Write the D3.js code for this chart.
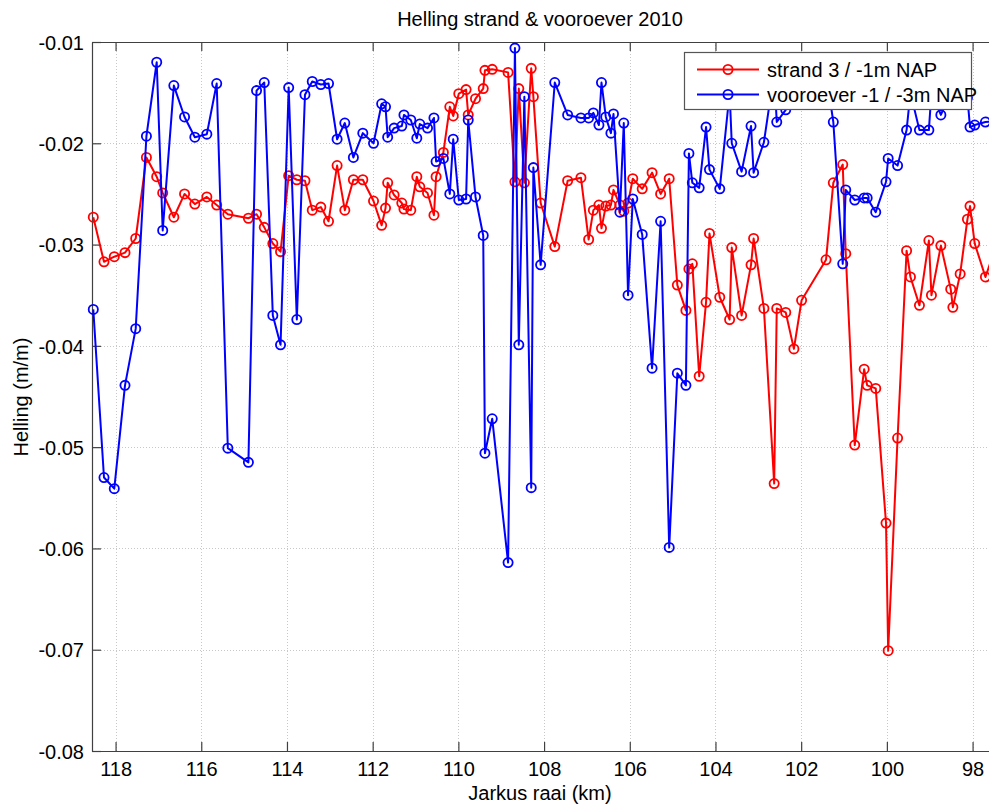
<!DOCTYPE html>
<html>
<head>
<meta charset="utf-8">
<script src="https://cdn.jsdelivr.net/npm/d3@7"></script>
<style>
  html, body { margin: 0; padding: 0; background: #fff; }
  svg { display: block; }
  text { font-family: "Liberation Sans", Arial, Helvetica, sans-serif; fill: #000; }
</style>
</head>
<body>
<svg id="chart" width="989" height="804"></svg>
<script>
// ---- data ----
const raai = [118.52,118.27,118.03,117.78,117.53,117.28,117.04,116.90,116.64,116.39,116.15,115.87,115.64,115.38,114.90,114.71,114.53,114.33,114.15,113.96,113.77,113.58,113.41,113.21,113.03,112.83,112.65,112.45,112.23,111.98,111.79,111.70,111.65,111.50,111.32,111.27,111.11,110.97,110.90,110.72,110.57,110.52,110.35,110.20,110.12,109.99,109.82,109.77,109.60,109.42,109.38,109.21,108.84,108.68,108.59,108.46,108.30,108.25,108.08,107.75,107.45,107.14,106.96,106.85,106.72,106.66,106.56,106.44,106.38,106.23,106.14,106.04,105.93,105.71,105.48,105.28,105.08,104.89,104.69,104.62,104.54,104.38,104.22,104.14,103.90,103.67,103.62,103.39,103.17,103.11,102.87,102.63,102.57,102.36,102.17,101.99,101.42,101.25,101.03,100.96,100.75,100.53,100.46,100.26,100.02,99.97,99.75,99.54,99.45,99.24,99.02,98.96,98.74,98.51,98.46,98.29,98.12,98.06,97.95,97.70,97.48];

const strand = [-0.0273,-0.0317,-0.0312,-0.0308,-0.0294,-0.0214,-0.0233,-0.0249,-0.0273,-0.0250,-0.0260,-0.0253,-0.0261,-0.0270,-0.0274,-0.0270,-0.0283,-0.0299,-0.0307,-0.0232,-0.0236,-0.0237,-0.0266,-0.0263,-0.0277,-0.0222,-0.0266,-0.0236,-0.0236,-0.0257,-0.0281,-0.0264,-0.0239,-0.0251,-0.0259,-0.0265,-0.0266,-0.0233,-0.0243,-0.0249,-0.0271,-0.0233,-0.0209,-0.0164,-0.0173,-0.0151,-0.0147,-0.0172,-0.0156,-0.0146,-0.0128,-0.0127,-0.0130,-0.0238,-0.0146,-0.0239,-0.0126,-0.0154,-0.0259,-0.0302,-0.0237,-0.0234,-0.0295,-0.0266,-0.0261,-0.0284,-0.0262,-0.0261,-0.0246,-0.0261,-0.0267,-0.0259,-0.0235,-0.0245,-0.0229,-0.0250,-0.0235,-0.0340,-0.0365,-0.0324,-0.0319,-0.0430,-0.0357,-0.0289,-0.0352,-0.0374,-0.0303,-0.0370,-0.0320,-0.0294,-0.0363,-0.0536,-0.0363,-0.0367,-0.0403,-0.0355,-0.0315,-0.0239,-0.0221,-0.0309,-0.0498,-0.0423,-0.0439,-0.0442,-0.0575,-0.0701,-0.0491,-0.0306,-0.0332,-0.0360,-0.0296,-0.0350,-0.0301,-0.0344,-0.0362,-0.0329,-0.0275,-0.0262,-0.0299,-0.0332,-0.0305];

const vooroever = [-0.0364,-0.0530,-0.0541,-0.0439,-0.0383,-0.0193,-0.0120,-0.0286,-0.0143,-0.0174,-0.0194,-0.0191,-0.0141,-0.0501,-0.0515,-0.0148,-0.0140,-0.0370,-0.0399,-0.0145,-0.0374,-0.0152,-0.0139,-0.0142,-0.0141,-0.0196,-0.0180,-0.0214,-0.0190,-0.0200,-0.0161,-0.0164,-0.0194,-0.0185,-0.0183,-0.0172,-0.0177,-0.0195,-0.0181,-0.0185,-0.0175,-0.0218,-0.0215,-0.0250,-0.0196,-0.0256,-0.0255,-0.0177,-0.0253,-0.0291,-0.0506,-0.0472,-0.0614,-0.0106,-0.0399,-0.0154,-0.0540,-0.0224,-0.0320,-0.0140,-0.0172,-0.0175,-0.0175,-0.0170,-0.0182,-0.0140,-0.0174,-0.0190,-0.0171,-0.0268,-0.0180,-0.0350,-0.0255,-0.0290,-0.0422,-0.0277,-0.0599,-0.0427,-0.0439,-0.0210,-0.0239,-0.0244,-0.0184,-0.0226,-0.0245,-0.0150,-0.0200,-0.0228,-0.0183,-0.0229,-0.0199,-0.0130,-0.0179,-0.0167,-0.0135,-0.0140,-0.0130,-0.0179,-0.0319,-0.0246,-0.0256,-0.0254,-0.0254,-0.0268,-0.0238,-0.0215,-0.0222,-0.0187,-0.0150,-0.0187,-0.0187,-0.0150,-0.0172,-0.0150,-0.0155,-0.0150,-0.0155,-0.0184,-0.0182,-0.0179,-0.0178];

const xTicks = [118,116,114,112,110,108,106,104,102,100,98];
const yTicks = [-0.08,-0.07,-0.06,-0.05,-0.04,-0.03,-0.02,-0.01];
const seriesNames = ["strand 3 / -1m NAP", "vooroever -1 / -3m NAP"];
const seriesColors = ["#ff0000", "#0000ff"];

// ---- layout ----
const L = 92, R = 1000, T = 42, B = 751;
const svg = d3.select("#chart");

const x = d3.scaleLinear().domain([118.55, 97.36]).range([L, R]);
const y = d3.scaleLinear().domain([-0.08, -0.01]).range([B, T]);

// grid
const grid = svg.append("g").attr("stroke", "#c8c8c8").attr("stroke-width", 1).attr("stroke-dasharray", "1,2");
grid.selectAll("line.gx").data(xTicks).join("line")
  .attr("x1", d => Math.round(x(d)) + 0.5).attr("x2", d => Math.round(x(d)) + 0.5)
  .attr("y1", T).attr("y2", B);
grid.selectAll("line.gy").data(yTicks.slice(1, -1)).join("line")
  .attr("x1", L).attr("x2", R)
  .attr("y1", d => Math.round(y(d)) + 0.5).attr("y2", d => Math.round(y(d)) + 0.5);

// axes (MATLAB style: ticks inside, box)
const axCol = "#404040";
const fmtY = d => d.toFixed(2);
const xAxis = svg.append("g").attr("transform", `translate(0,${B})`)
  .call(d3.axisBottom(x).tickValues(xTicks).tickSizeInner(-9).tickSizeOuter(0).tickPadding(11).tickFormat(d3.format("d")));
const xAxisTop = svg.append("g").attr("transform", `translate(0,${T})`)
  .call(d3.axisTop(x).tickValues(xTicks).tickSizeInner(-9).tickSizeOuter(0).tickFormat(""));
const yAxis = svg.append("g").attr("transform", `translate(${L},0)`)
  .call(d3.axisLeft(y).tickValues(yTicks).tickSizeInner(-9).tickSizeOuter(0).tickPadding(8).tickFormat(fmtY));
[xAxis, xAxisTop, yAxis].forEach(g => {
  g.select(".domain").attr("stroke", axCol).attr("stroke-width", 1.2);
  g.selectAll(".tick line").attr("stroke", axCol).attr("stroke-width", 1.2);
  g.selectAll("text").attr("font-size", 20).attr("font-family", "Liberation Sans, Arial, sans-serif").attr("fill", "#000");
});
yAxis.selectAll(".tick text").attr("dy", "0.36em");

// titles
svg.append("text").attr("x", 540).attr("y", 26).attr("text-anchor", "middle").attr("font-size", 20)
  .text("Helling strand & vooroever 2010");
svg.append("text").attr("x", 540).attr("y", 800).attr("text-anchor", "middle").attr("font-size", 20)
  .text("Jarkus raai (km)");
svg.append("text").attr("transform", "translate(28,397) rotate(-90)").attr("text-anchor", "middle").attr("font-size", 20)
  .text("Helling (m/m)");

// series
const series = [strand, vooroever];
const line = d3.line().x(d => x(d[0])).y(d => y(d[1]));
series.forEach((vals, i) => {
  const pts = raai.map((k, j) => [k, vals[j]]);
  const g = svg.append("g");
  g.append("path").datum(pts).attr("d", line).attr("fill", "none")
    .attr("stroke", seriesColors[i]).attr("stroke-width", 2).attr("stroke-linejoin", "round");
  g.selectAll("circle").data(pts).join("circle")
    .attr("cx", d => x(d[0])).attr("cy", d => y(d[1])).attr("r", 4.6)
    .attr("fill", "none").attr("stroke", seriesColors[i]).attr("stroke-width", 1.8);
});

// legend
const lg = svg.append("g");
lg.append("rect").attr("x", 684.5).attr("y", 52.5).attr("width", 287).attr("height", 57)
  .attr("fill", "#fff").attr("stroke", "#555").attr("stroke-width", 1.2);
seriesNames.forEach((name, i) => {
  const yy = 69.5 + i * 25;
  lg.append("line").attr("x1", 697).attr("x2", 759).attr("y1", yy).attr("y2", yy)
    .attr("stroke", seriesColors[i]).attr("stroke-width", 2);
  lg.append("circle").attr("cx", 728).attr("cy", yy).attr("r", 4.6)
    .attr("fill", "none").attr("stroke", seriesColors[i]).attr("stroke-width", 1.8);
  lg.append("text").attr("x", 767).attr("y", yy + 7).attr("font-size", 20).text(name);
});
</script>
</body>
</html>
